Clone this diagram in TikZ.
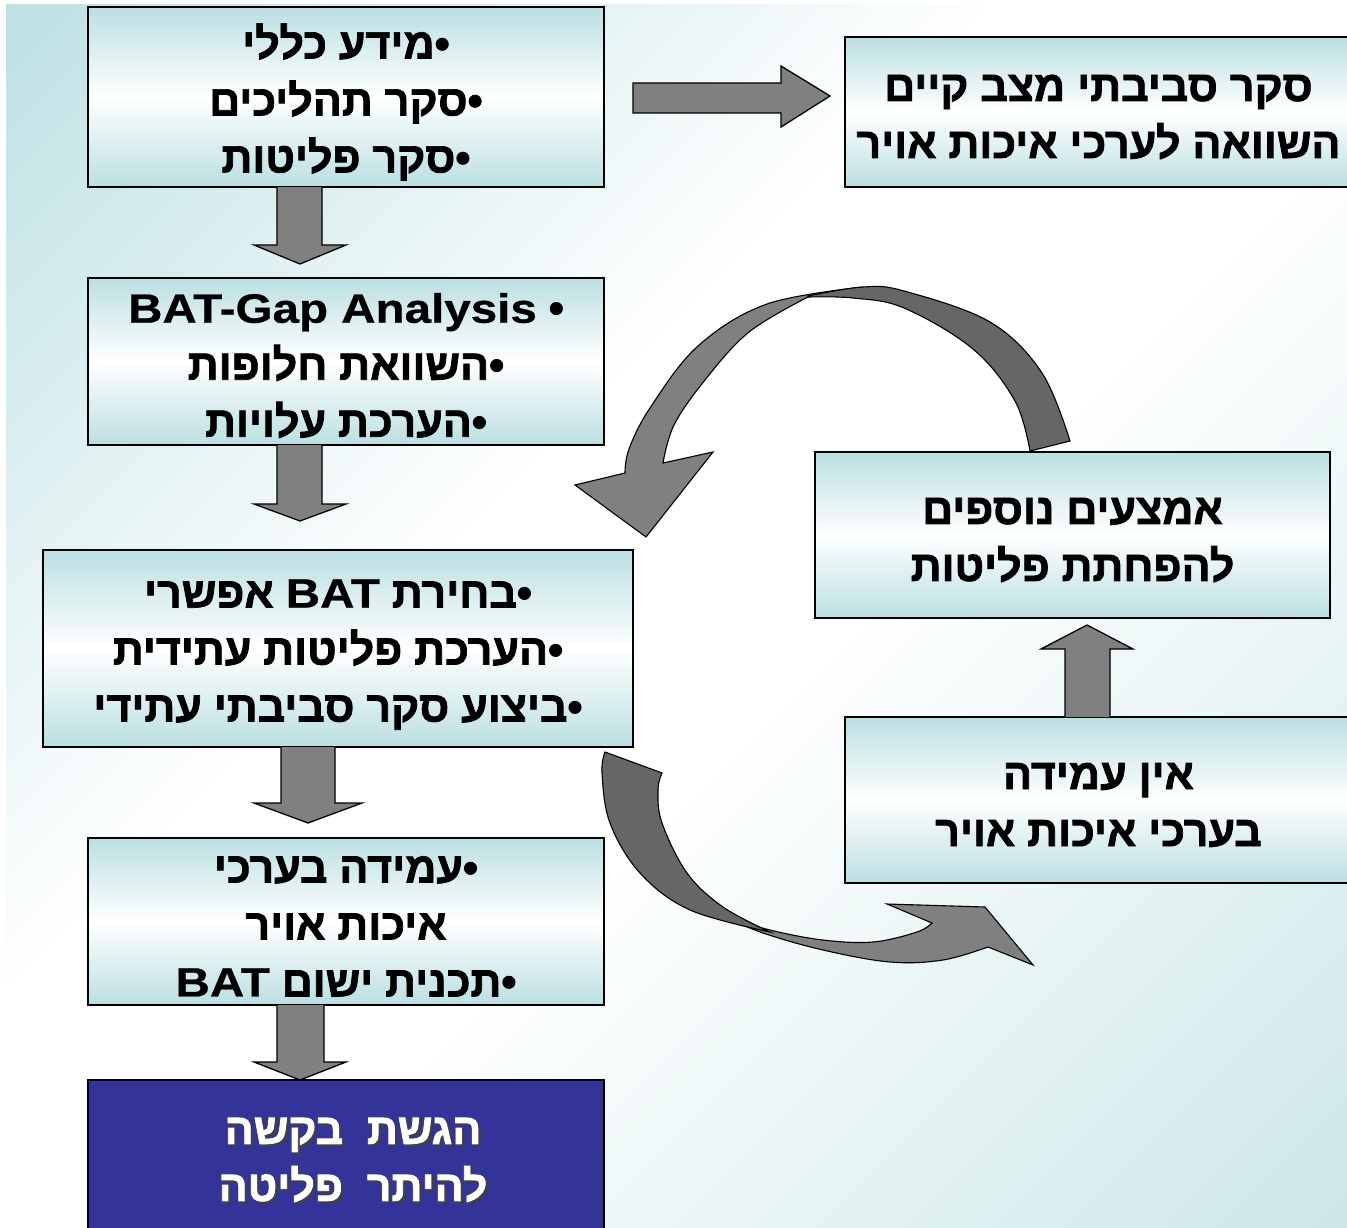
\documentclass[tikz,border=0pt]{standalone}
\usepackage{fontspec}
\setmainfont{Liberation Sans}[Script=Hebrew,FakeStretch=1.0,BoldFeatures={FakeBold=1.7}]
\newfontfamily\latfont{Liberation Sans}[FakeStretch=1.16,BoldFeatures={FakeBold=0.6}]
\newcommand\lat[1]{{\latfont\fontsize{41}{57}\selectfont\bfseries #1}}
\TeXXeTstate=1
\usetikzlibrary{calc}
\definecolor{tealbox}{HTML}{BBDFE2}
\definecolor{bgteal}{HTML}{BEE1E4}
\definecolor{bgteal2}{HTML}{CDE7E9}
\definecolor{arrowgray}{HTML}{808080}
\definecolor{darkgray}{HTML}{666666}
\definecolor{navybox}{HTML}{333399}
\pgfdeclareverticalshading{bgshade}{100bp}{color(0bp)=(bgteal2); color(15bp)=(bgteal2); color(45bp)=(white); color(58bp)=(white); color(85bp)=(bgteal); color(100bp)=(bgteal)}
\begin{document}
\begin{tikzpicture}[x=1pt,y=-1pt,
  box/.style={draw=black,line width=1.6pt,top color=tealbox,bottom color=tealbox,middle color=white,
    inner sep=0pt,outer sep=0pt},
  txt/.style={align=center,inner sep=0pt,font=\bfseries\fontsize{43}{57}\selectfont},
  blk/.style={draw=black,line width=1.3pt,fill=arrowgray,line join=miter},
  curvd/.style={draw=black,line width=1.1pt,fill=darkgray},
  curvl/.style={draw=black,line width=1.1pt,fill=arrowgray}
]
\useasboundingbox (0,0) rectangle (1347,1228);
\clip (0,0) rectangle (1347,1228);
\fill[white] (0,0) rectangle (1347,1228);
\shade[shading=bgshade,shading angle=45] (6,5) rectangle (1347,1228);

% boxes
\node[box,minimum width=516pt,minimum height=180pt] (b1) at (346,97) {};
\node[box,minimum width=507pt,minimum height=150pt] (b2) at (1098.5,112) {};
\node[box,minimum width=516pt,minimum height=167pt] (b3) at (346,361.5) {};
\node[box,minimum width=590pt,minimum height=197pt] (b4) at (338,648.5) {};
\node[box,minimum width=516pt,minimum height=167pt] (b5) at (346,921.5) {};
\node[draw=black,line width=1.6pt,fill=navybox,minimum width=516pt,minimum height=160pt,inner sep=0pt,outer sep=0pt] (b6) at (346,1160) {};
\node[box,minimum width=515pt,minimum height=166pt] (b7) at (1072.5,535) {};
\node[box,minimum width=507pt,minimum height=166pt] (b8) at (1098.5,800) {};

% texts
\node[txt] (t1) at ($(b1.center)+(0,5)$)
  {\beginR •מידע כללי\endR\\ \beginR •סקר תהליכים\endR\\ \beginR •סקר פליטות\endR};
\node[txt] (t2) at ($(b2.center)+(0,5)$)
  {\beginR סקר סביבתי מצב קיים\endR\\ \beginR השוואה לערכי איכות אויר\endR};
\node[txt] (t3) at ($(b3.center)+(0,4)$)
  {\beginR •\ \beginL\lat{BAT-Gap Analysis}\endL\endR\\ \beginR •השוואת חלופות\endR\\ \beginR •הערכת עלויות\endR};
\node[txt] (t4) at ($(b4.center)+(0,6)$)
  {\beginR •בחירת \beginL\lat{BAT}\endL{} אפשרי\endR\\ \beginR •הערכת פליטות עתידית\endR\\ \beginR •ביצוע סקר סביבתי עתידי\endR};
\node[txt] (t5) at ($(b5.center)+(0,5)$)
  {\beginR •עמידה בערכי\endR\\ \beginR איכות אויר\endR\\ \beginR •תכנית ישום \beginL\lat{BAT}\endL\endR};
\node[txt,text=black!75] (t6shadow) at (355.5,1162.5)
  {\beginR הגשת~~בקשה\endR\\ \beginR להיתר~~פליטה\endR};
\node[txt,text=white] (t6) at (353,1160)
  {\beginR הגשת~~בקשה\endR\\ \beginR להיתר~~פליטה\endR};
\node[txt] (t7) at ($(b7.center)+(0,5)$)
  {\beginR אמצעים נוספים\endR\\ \beginR להפחתת פליטות\endR};
\node[txt] (t8) at ($(b8.center)+(0,5)$)
  {\beginR אין עמידה\endR\\ \beginR בערכי איכות אויר\endR};

% straight block arrows
\draw[blk] (277,187) -- (277,245) -- (254,245) -- (300,264) -- (346,245) -- (322,245) -- (322,187);
\draw[blk] (277,445) -- (277,504) -- (254,504) -- (300,521) -- (346,504) -- (322,504) -- (322,445);
\draw[blk] (281,747) -- (281,803) -- (254,803) -- (308,823) -- (362,803) -- (335,803) -- (335,747);
\draw[blk] (277,1005) -- (277,1062) -- (254,1062) -- (300,1080) -- (346,1062) -- (324,1062) -- (324,1005);
\draw[blk] (633,83) -- (781,83) -- (781,66) -- (830,96) -- (781,127) -- (781,113) -- (633,113) -- cycle;
\draw[blk] (1065,717) -- (1065,649) -- (1041,649) -- (1087,625) -- (1133,649) -- (1110,649) -- (1110,717);

% curved arrow: from b7 back over to the left
\filldraw[curvl] plot[smooth,tension=0.6] coordinates {(863,287) (767,304) (698,346) (650,408) (629,449) (625,473)}
  -- (575,485) -- (646,537) -- (713,452) -- (663,463)
  -- plot[smooth,tension=0.6] coordinates {(663,463) (674,425) (705,380) (749,332) (808,297)} -- cycle;
\filldraw[curvd] plot[smooth,tension=0.6] coordinates {(1070,441) (1042,373) (990,322) (904,291) (863,287) (808,296)}
  -- plot[smooth,tension=0.6] coordinates {(808,297) (853,298) (904,308) (973,349) (1015,401) (1030,451)} -- cycle;

% curved arrow: from b4 to the right
\filldraw[curvl] plot[smooth,tension=0.6] coordinates {(720,915) (763,933) (823,950) (890,962) (943,960) (988,947)}
  -- (1033,965) -- (985,907) -- (887,904) -- (932,923)
  -- plot[smooth,tension=0.6] coordinates {(932,923) (917,932) (873,942) (823,940) (770,930) (720,915)} -- cycle;
\filldraw[curvd] plot[smooth,tension=0.6] coordinates {(605,752) (602,773) (610,823) (640,873) (690,910) (770,932)}
  -- plot[smooth,tension=0.6] coordinates {(770,932) (723,907) (687,873) (662,823) (658,790) (662,773)} -- cycle;
\end{tikzpicture}
\end{document}
